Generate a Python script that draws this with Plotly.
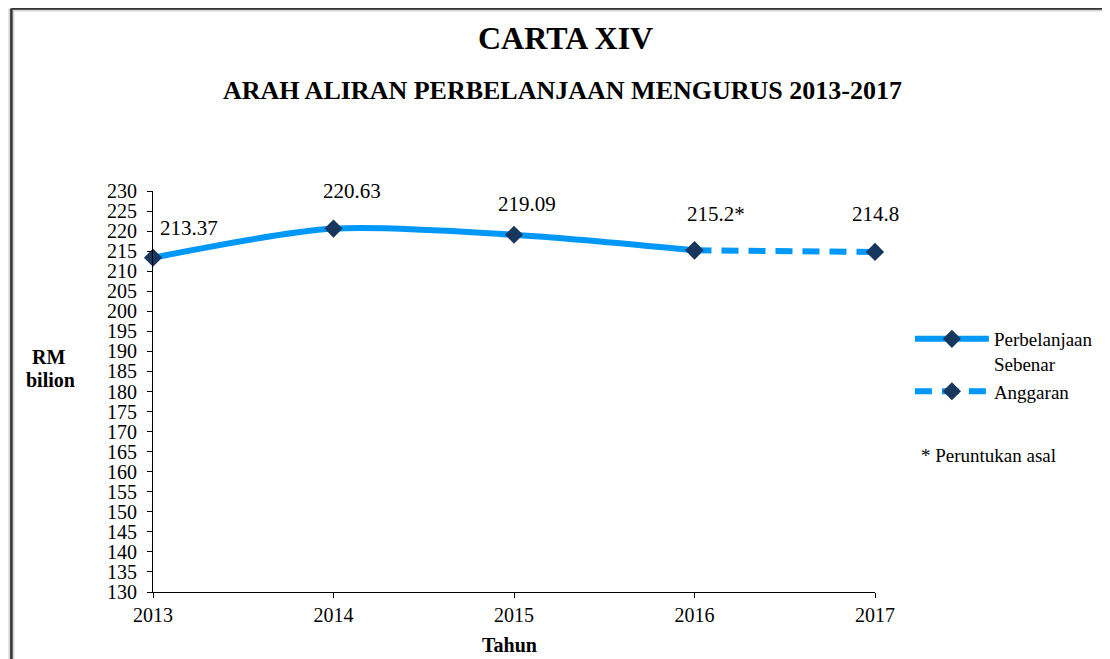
import plotly.graph_objects as go

years_actual = [2013, 2014, 2015, 2016]
values_actual = [213.37, 220.63, 219.09, 215.2]
years_budget = [2016, 2017]
values_budget = [215.2, 214.8]
label_years = [2013, 2014, 2015, 2016, 2017]
label_values = [213.37, 220.63, 219.09, 215.2, 214.8]
label_texts = ["213.37", "220.63", "219.09", "215.2*", "214.8"]
y_ticks = list(range(130, 231, 5))

LINE_C = "#0098F8"
MARK_C = "#17375E"
FONT = "Liberation Serif, Times New Roman, serif"

# page body adds an 8px offset; compensate
OFF = 8
W, H = 1110 - OFF, 659 - OFF
PW, PH = 724, 401
L, T = 153 - OFF, 191 - OFF
R, B = W - L - PW, H - T - PH


def px(xref_pix):
    return (xref_pix - 153) / PW


def py(yref_pix):
    return (592 - yref_pix) / PH


fig = go.Figure()

# frame (with soft shadow)
for col, wd in (("#d4d4d4", 6), ("#333333", 2.5)):
    fig.add_shape(type="line", xref="paper", yref="paper", x0=px(11), x1=px(11),
                  y0=py(670), y1=py(8.5), line=dict(color=col, width=wd), layer="below")
    fig.add_shape(type="line", xref="paper", yref="paper", x0=px(11), x1=px(1120),
                  y0=py(8.5), y1=py(8.5), line=dict(color=col, width=wd), layer="below")

fig.add_trace(go.Scatter(
    x=years_actual, y=values_actual, mode="lines+markers",
    name="Perbelanjaan<br>Sebenar",
    line=dict(color=LINE_C, width=6, shape="spline", smoothing=0.8),
    marker=dict(symbol="diamond", size=14, color=MARK_C),
    cliponaxis=False,
))
fig.add_trace(go.Scatter(
    x=years_budget, y=values_budget, mode="lines+markers",
    name="Anggaran",
    line=dict(color=LINE_C, width=6, dash="17px,10px"),
    marker=dict(symbol="diamond", size=14, color=MARK_C),
    cliponaxis=False,
))

shifts = [(36, 30), (18, 38), (13, 31), (21, 36), (0, 38)]
for xv, yv, t, (dx, dy) in zip(label_years, label_values, label_texts, shifts):
    fig.add_annotation(x=xv, y=yv, text=t, showarrow=False, xshift=dx, yshift=dy,
                       font=dict(family=FONT, size=21, color="#000"))


def paper_text(xr, yr, text, size, anchor="center"):
    fig.add_annotation(x=px(xr), y=py(yr), xref="paper", yref="paper", text=text,
                       xanchor=anchor, yanchor="middle", showarrow=False,
                       font=dict(family=FONT, size=size, color="#000"))


paper_text(567, 38, "<b>CARTA XIV</b>", 32)
paper_text(564, 90, "<b>ARAH ALIRAN PERBELANJAAN MENGURUS 2013-2017</b>", 26)
paper_text(48, 357, "<b>RM</b>", 20)
paper_text(50, 380, "<b>bilion</b>", 20)
paper_text(510, 645, "<b>Tahun</b>", 20)
paper_text(921, 455, "* Peruntukan asal", 19, anchor="left")

fig.update_layout(
    width=W, height=H,
    margin=dict(l=L, r=R, t=T, b=B),
    paper_bgcolor="white", plot_bgcolor="white",
    font=dict(family=FONT, color="#000"),
    showlegend=True,
    legend=dict(x=px(912), y=py(320), xanchor="left", yanchor="top",
                font=dict(family=FONT, size=19, color="#000"),
                bgcolor="rgba(0,0,0,0)", tracegroupgap=0, itemwidth=74, valign="top"),
    xaxis=dict(range=[2013, 2017], tickvals=label_years, ticktext=[str(y) for y in label_years],
               showgrid=False, zeroline=False, showline=True, linecolor="#000", linewidth=1,
               ticks="outside", ticklen=5, tickcolor="#000",
               tickfont=dict(family=FONT, size=20)),
    yaxis=dict(range=[130, 230], tickvals=y_ticks, showgrid=False, zeroline=False,
               showline=True, linecolor="#000", linewidth=1,
               ticks="outside", ticklen=5, tickcolor="#000", ticklabelstandoff=6,
               tickfont=dict(family=FONT, size=20)),
)

fig.write_html("out.html")
